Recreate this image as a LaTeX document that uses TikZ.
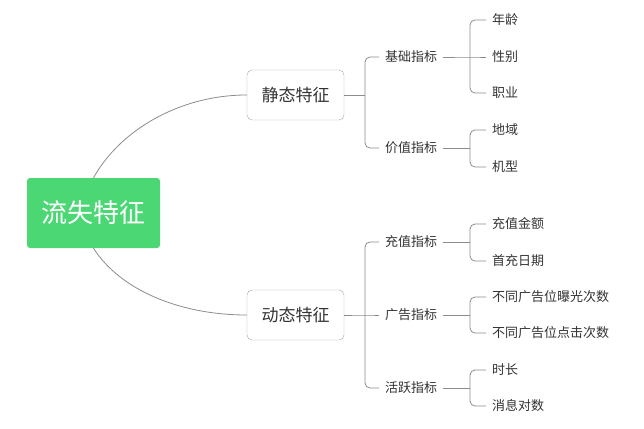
\documentclass[tikz,border=0pt]{standalone}
\usepackage{fontspec}
\setmainfont{Noto Sans CJK SC}
\begin{document}
\begin{tikzpicture}
  [
    x=1pt, y=-1pt,
    root/.style =
      {fill=green!55!teal!70, text=white, rounded corners=3pt, minimum width=133pt, minimum height=70pt, font=\fontsize{26}{30}\selectfont},
    topic/.style =
      {draw=black!35, rounded corners=5pt, text=black!80, minimum width=97pt, minimum height=50pt, font=\fontsize{17}{20}\selectfont},
    sub/.style =
      {anchor=west, text=black!80, inner xsep=6pt, font=\fontsize{13}{16}\selectfont},
    leaf/.style =
      {anchor=west, text=black!80, inner xsep=6pt, font=\fontsize{13}{16}\selectfont},
    link/.style =
      {draw=black!45, line width=0.8pt, rounded corners=5pt}
  ]
\useasboundingbox (0,0) rectangle (644,428);

\node[root] (r) at (93.5,213) {流失特征};
\node[topic] (s) at (295.5,95) {静态特征};
\node[topic] (d) at (295.5,315) {动态特征};

\draw [link] (r.north) .. controls (120,130) and (180,95) .. (s.west);
\draw [link] (r.south) .. controls (120,290) and (180,315) .. (d.west);

% second level
\node[sub] (s1) at (379,57) {基础指标};
\node[sub] (s2) at (379,148) {价值指标};
\node[sub] (d1) at (379,242) {充值指标};
\node[sub] (d2) at (379,315) {广告指标};
\node[sub] (d3) at (379,388) {活跃指标};

\draw [link] (s.east) -- (365,95);
\draw [link] (s1.west) -| (365,148) -- (s2.west);
\draw [link] (d.east) -- (365,315) -- (d2.west);
\draw [link] (d1.west) -| (365,388) -- (d3.west);

% leaves
\node[leaf] (a1) at (486,20) {年龄};
\node[leaf] (a2) at (486,57) {性别};
\node[leaf] (a3) at (486,93) {职业};
\node[leaf] (b1) at (486,130) {地域};
\node[leaf] (b2) at (486,167) {机型};
\node[leaf] (c1) at (486,224) {充值金额};
\node[leaf] (c2) at (486,261) {首充日期};
\node[leaf] (e1) at (486,297) {不同广告位曝光次数};
\node[leaf] (e2) at (486,333) {不同广告位点击次数};
\node[leaf] (f1) at (486,370) {时长};
\node[leaf] (f2) at (486,406) {消息对数};

\draw [link] (s1.east) -- (470,57) -- (a2.west);
\draw [link] (a1.west) -| (470,93) -- (a3.west);
\foreach \p/\a/\b in {s2/b1/b2, d1/c1/c2, d2/e1/e2, d3/f1/f2}
  {
    \draw [link] (\p.east) -- (470,0 |- \p.east);
    \draw [link] (\a.west) -| (470,0 |- \b.west) -- (\b.west);
  }

\end{tikzpicture}
\end{document}
